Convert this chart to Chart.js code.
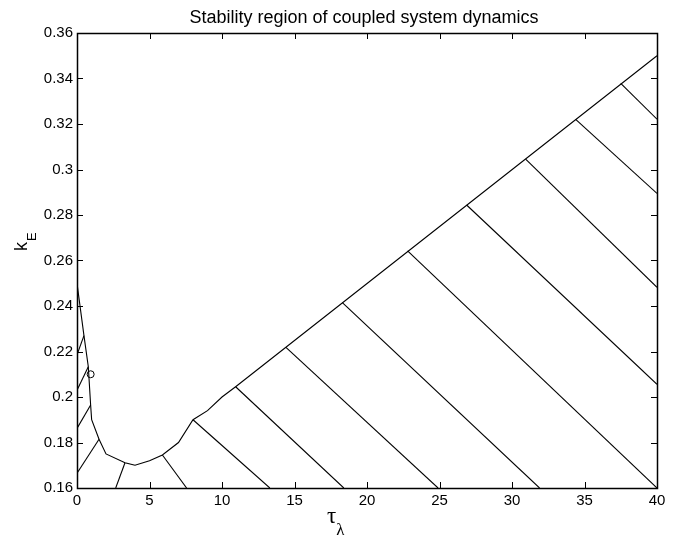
<!DOCTYPE html>
<html>
<head>
<meta charset="utf-8">
<script src="https://cdn.jsdelivr.net/npm/chart.js@4/dist/chart.umd.min.js"></script>
<style>
  body { margin: 0; background: #fff; }
  canvas { display: block; }
</style>
</head>
<body>
<canvas id="stab" width="686" height="538"></canvas>
<script>
// boundary of the stability region (tau_lambda, k_E)
const boundaryX = [0, 0.48, 0.78, 0.94, 1.01, 1.52, 2, 3.31, 4, 5, 5.89, 7, 8, 9, 10, 10.94, 40]
const boundaryY = [0.25, 0.227, 0.2133, 0.1965, 0.19, 0.1814, 0.175, 0.1711, 0.17, 0.172, 0.1745, 0.18, 0.19, 0.194, 0.2, 0.2045, 0.35]

// hatch segments below the boundary
const hatchStartX = [0, 0, 0, 0, 2.67, 5.89, 8, 10.94, 14.41, 18.3, 22.8, 26.87, 30.94, 34.39, 37.5]
const hatchStartY = [0.2185, 0.203, 0.1862, 0.1665, 0.16, 0.1745, 0.19, 0.2045, 0.2218, 0.2415, 0.2642, 0.2844, 0.3046, 0.322, 0.3379]
const hatchEndX = [0.48, 0.78, 0.94, 1.52, 3.31, 7.56, 13.3, 18.4, 24.9, 31.9, 40, 40, 40, 40, 40]
const hatchEndY = [0.227, 0.2133, 0.1965, 0.1814, 0.1711, 0.16, 0.16, 0.16, 0.16, 0.16, 0.16, 0.2056, 0.2482, 0.2895, 0.3221]

// operating point
const markerX = [0.94]
const markerY = [0.21]

const xTicks = [0, 5, 10, 15, 20, 25, 30, 35, 40]
const xTickLabels = ['0', '5', '10', '15', '20', '25', '30', '35', '40']
const yTicks = [0.16, 0.18, 0.2, 0.22, 0.24, 0.26, 0.28, 0.3, 0.32, 0.34, 0.36]
const yTickLabels = ['0.16', '0.18', '0.2', '0.22', '0.24', '0.26', '0.28', '0.3', '0.32', '0.34', '0.36']

const titleText = 'Stability region of coupled system dynamics'

const toPoints = (xs, ys) => xs.map((x, i) => ({ x: x, y: ys[i] }))

let datasets = [{
    label: 'boundary',
    data: toPoints(boundaryX, boundaryY),
    showLine: true,
    borderColor: '#000',
    borderWidth: 1.1,
    pointRadius: 0
}]

hatchStartX.forEach((x0, i) => {
    datasets.push({
        label: 'hatch' + i,
        data: [{ x: x0, y: hatchStartY[i] }, { x: hatchEndX[i], y: hatchEndY[i] }],
        showLine: true,
        borderColor: '#000',
        borderWidth: 1.1,
        pointRadius: 0
    })
})

datasets.push({
    label: 'point',
    data: toPoints(markerX, markerY),
    showLine: false,
    pointStyle: 'circle',
    pointRadius: 3.5,
    borderColor: '#000',
    borderWidth: 1,
    backgroundColor: 'rgba(0,0,0,0)'
})

const sans = "'Liberation Sans', Arial, Helvetica, sans-serif"
const serif = "'Liberation Serif', 'DejaVu Serif', serif"

// frame, inward ticks, title and axis labels in matlab style
const decorations = {
    id: 'decorations',
    afterDraw(chart) {
        const ctx = chart.ctx
        const a = chart.chartArea
        const xs = chart.scales.x
        const ys = chart.scales.y
        const tl = 6
        ctx.save()
        ctx.strokeStyle = '#000'
        ctx.lineWidth = 1
        ctx.beginPath()
        xTicks.forEach(v => {
            const px = Math.round(xs.getPixelForValue(v)) + 0.5
            ctx.moveTo(px, a.bottom); ctx.lineTo(px, a.bottom - tl)
            ctx.moveTo(px, a.top); ctx.lineTo(px, a.top + tl)
        })
        yTicks.forEach(v => {
            const py = Math.round(ys.getPixelForValue(v)) + 0.5
            ctx.moveTo(a.left, py); ctx.lineTo(a.left + tl, py)
            ctx.moveTo(a.right, py); ctx.lineTo(a.right - tl, py)
        })
        ctx.stroke()
        ctx.lineWidth = 1.5
        ctx.strokeRect(Math.round(a.left) + 0.5, Math.round(a.top) + 0.5,
            Math.round(a.right - a.left), Math.round(a.bottom - a.top))

        ctx.fillStyle = '#000'
        ctx.textBaseline = 'alphabetic'

        // title
        ctx.font = '18px ' + sans
        ctx.textAlign = 'center'
        ctx.fillText(titleText, (a.left + a.right) / 2 - 3, 23)

        // x label: tau with lambda subscript
        ctx.textAlign = 'left'
        ctx.font = '23px ' + serif
        const tx = 327
        ctx.fillText('\u03c4', tx, 523)
        const tw = ctx.measureText('\u03c4').width
        ctx.font = '17px ' + serif
        ctx.fillText('\u03bb', tx + tw, 535)

        // y label: k with E subscript, rotated
        ctx.translate(27, 251)
        ctx.rotate(-Math.PI / 2)
        ctx.font = '18px ' + sans
        ctx.fillText('k', 0, 0)
        const kw = ctx.measureText('k').width
        ctx.font = '13px ' + sans
        ctx.fillText('E', kw + 1, 9)
        ctx.restore()
    }
}

const ctx = document.getElementById('stab')
const myChart = new Chart(ctx, {
    type: 'scatter',
    data: { datasets: datasets },
    options: {
        responsive: false,
        animation: false,
        devicePixelRatio: 1,
        layout: { padding: { left: 0, right: 29, top: 33, bottom: 0 } },
        plugins: {
            legend: { display: false },
            tooltip: { enabled: false },
            title: { display: false }
        },
        scales: {
            x: {
                type: 'linear',
                min: 0,
                max: 40,
                afterBuildTicks: (scale) => { scale.ticks = xTicks.map(v => ({ value: v })) },
                afterFit: (scale) => { scale.height = 50 },
                grid: { display: false, drawTicks: false },
                border: { display: false },
                ticks: {
                    color: '#000',
                    font: { size: 15, family: sans },
                    padding: 4,
                    maxRotation: 0,
                    autoSkip: false,
                    callback: (v, i) => xTickLabels[i]
                }
            },
            y: {
                type: 'linear',
                min: 0.16,
                max: 0.36,
                afterBuildTicks: (scale) => { scale.ticks = yTicks.map(v => ({ value: v })) },
                afterFit: (scale) => { scale.width = 77 },
                grid: { display: false, drawTicks: false },
                border: { display: false },
                ticks: {
                    color: '#000',
                    font: { size: 15, family: sans },
                    padding: 4,
                    autoSkip: false,
                    callback: (v, i) => yTickLabels[i]
                }
            }
        }
    },
    plugins: [decorations]
})
</script>
</body>
</html>
